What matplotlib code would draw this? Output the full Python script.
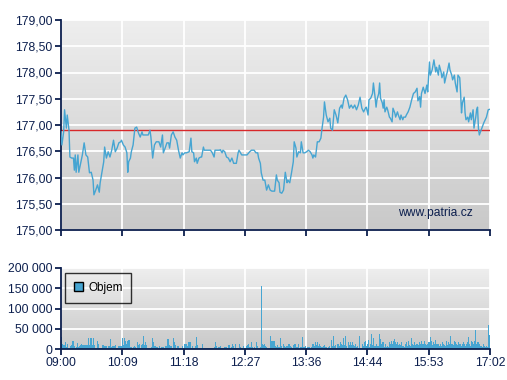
import numpy as np
import matplotlib
matplotlib.use("Agg")
import matplotlib.pyplot as plt
from matplotlib.colors import LinearSegmentedColormap

# minutes after 09:00 and price
minutes = [0, 1, 3, 4, 6, 7, 9, 10, 12, 14, 15, 16, 17, 19, 20, 22, 24, 26, 28, 30,
           32, 34, 36, 37, 39, 41, 43, 44, 46, 48, 49, 51, 53, 55, 57, 59, 61, 63, 65, 67,
           68, 70, 72, 74, 75, 76, 78, 79, 81, 83, 85, 87, 89, 91, 92, 94, 98, 100, 101, 103,
           105, 107, 110, 112, 114, 115,
           117, 119, 121, 122, 124, 126, 128, 130, 132, 134, 136, 137, 139, 141, 144, 146, 147, 149, 150, 152,
           153, 155, 157, 158, 160, 161, 163, 166, 168, 170, 172, 173, 176, 178, 179, 181, 182, 184, 186, 188,
           190, 192, 194, 195, 197, 199, 200, 203, 207, 209, 212, 214, 217, 219, 221, 222, 224, 225, 227, 229,
           231, 233,
           235, 237, 239, 240, 242, 243, 245, 246, 248, 250, 252, 254, 255, 257, 259, 261, 262, 264, 265, 267,
           269, 270, 272, 274, 276, 278, 280, 282, 283, 284, 286, 288, 290, 292, 293, 295, 296, 297, 298, 300,
           302, 303, 305, 307, 309, 311, 313, 315, 316, 318, 320, 322, 324, 326, 328, 330, 332, 334, 336, 338,
           340, 342, 343, 345,
           346, 348, 350, 351, 353, 354, 355, 357, 358, 359, 361, 362, 363, 364, 366, 367, 369, 370, 372, 373,
           375, 376, 378, 379, 381, 382, 384, 385, 387, 388, 390, 392, 394, 396, 398, 400, 401, 403, 404, 405,
           407, 409, 411, 412, 414, 415, 417, 418, 419, 421, 422, 424, 425, 427, 428, 430, 431, 433, 434, 436,
           437, 439, 440, 442, 443, 445, 446, 448, 449, 450, 451, 453, 454, 455, 457, 458, 460, 461, 463, 464,
           466, 467, 468, 469, 470, 472, 475, 478, 480, 482]
price = [176.87, 176.62, 176.87, 177.29, 176.94, 177.19, 176.90, 176.39, 176.37, 176.37, 176.14, 176.43, 176.10, 176.43, 176.10, 176.27, 176.43, 176.66, 176.43, 176.39,
         176.09, 176.10, 175.95, 175.67, 175.76, 175.86, 175.72, 175.90, 176.10, 176.30, 176.58, 176.37, 176.49, 176.39, 176.52, 176.71, 176.49, 176.56, 176.66, 176.68,
         176.71, 176.62, 176.58, 176.47, 176.10, 176.30, 176.37, 176.49, 176.62, 176.94, 176.96, 176.85, 176.77, 176.87, 176.81, 176.81, 176.81, 176.90, 176.77, 176.37,
         176.62, 176.68, 176.68, 176.58, 176.81, 176.47,
         176.56, 176.66, 176.66, 176.56, 176.81, 176.87, 176.77, 176.71, 176.52, 176.37, 176.47, 176.43, 176.47, 176.47, 176.49, 176.75, 176.49, 176.47, 176.30, 176.37,
         176.27, 176.37, 176.39, 176.39, 176.58, 176.52, 176.52, 176.52, 176.52, 176.47, 176.39, 176.52, 176.52, 176.52, 176.53, 176.47, 176.52, 176.49, 176.39, 176.37,
         176.30, 176.37, 176.27, 176.27, 176.27, 176.47, 176.52, 176.43, 176.43, 176.43, 176.49, 176.52, 176.52, 176.47, 176.47, 176.37, 176.27, 176.09, 175.95, 175.95,
         175.76, 175.86,
         175.76, 175.74, 175.74, 175.74, 176.05, 175.95, 175.90, 175.72, 175.70, 175.76, 176.10, 175.90, 175.95, 175.90, 176.09, 176.30, 176.68, 176.56, 176.39, 176.49,
         176.47, 176.68, 176.47, 176.47, 176.49, 176.52, 176.49, 176.43, 176.37, 176.43, 176.39, 176.68, 176.68, 176.75, 176.90, 177.15, 177.44, 177.32, 177.19, 177.06,
         177.13, 176.94, 176.90, 177.29, 177.19, 177.04, 177.32, 177.38, 177.32, 177.51, 177.57, 177.48, 177.32, 177.38, 177.32, 177.38, 177.29, 177.38, 177.53, 177.32,
         177.25, 177.32, 177.34, 177.19,
         177.48, 177.51, 177.60, 177.80, 177.51, 177.34, 177.48, 177.60, 177.80, 177.51, 177.42, 177.32, 177.48, 177.25, 177.34, 177.29, 177.15, 177.13, 177.06, 177.32,
         177.23, 177.15, 177.25, 177.19, 177.10, 177.19, 177.10, 177.15, 177.15, 177.19, 177.25, 177.34, 177.48, 177.60, 177.63, 177.70, 177.46, 177.54, 177.34, 177.60,
         177.72, 177.60, 177.76, 177.63, 178.20, 177.95, 178.05, 178.14, 178.24, 178.01, 178.10, 177.95, 178.14, 178.01, 177.90, 178.01, 177.80, 177.95, 178.01, 178.18,
         178.05, 177.95, 177.86, 177.95, 177.80, 177.63, 177.95, 177.90, 177.60, 177.23, 177.42, 177.53, 177.23, 177.10, 177.15, 177.06, 177.23, 177.10, 177.29, 176.94,
         177.15, 177.29, 177.34, 176.94, 176.81, 176.90, 177.04, 177.15, 177.29, 177.30]
prev_close = 176.90

# traded volume in thousands, one bar per chart column from 09:00 to 17:02
volume_k = [30, 12, 10, 10, 18, 5, 12, 2, 2, 8, 10, 20, 20, 8, 2, 4, 15, 5, 8, 10, 12, 10, 10, 10, 10, 10, 10, 27, 10, 27,
            27, 10, 27, 10, 2, 2, 20, 12, 2, 2, 2, 10, 10, 8, 8, 8, 2, 7, 7, 25, 5, 7, 7, 7, 10, 2, 2, 8, 8, 8,
            8, 28, 10, 28, 20, 12, 20, 22, 22, 5, 5, 2, 5, 8, 5, 2, 18, 10, 12, 2, 10, 12, 33, 10, 17, 10, 2, 2, 2, 2,
            5, 28, 17, 8, 7, 5, 5, 3, 7, 3, 5, 5, 5, 2, 8, 7, 25, 10, 8, 8, 2, 28, 17, 10, 2, 8, 8, 2, 2, 2,
            8, 2, 13, 12, 12, 8, 17, 17, 18, 2, 7, 2, 2, 8, 30, 10, 2, 2, 2, 2, 12, 2, 2, 2, 2, 2,
            2, 2, 2, 2, 2, 2, 5, 17, 8, 3, 5, 5, 8, 2, 2, 2, 5, 5, 5, 2, 10, 10, 2, 5, 13, 8, 2, 12, 2, 2,
            2, 12, 5, 2, 2, 8, 2, 2, 8, 10, 12, 5, 5, 18, 5, 2, 5, 2, 18, 8, 2, 2, 5, 156, 12, 10, 13, 8, 5, 2,
            2, 2, 32, 20, 20, 20, 20, 8, 5, 10, 5, 5, 27, 8, 2, 13, 8, 5, 8, 8, 12, 12, 8, 5, 2, 10, 12, 12, 5, 5,
            12, 2, 5, 5, 30, 5, 5, 8, 2, 5, 5, 5, 2, 5, 13, 12, 8, 18, 10, 17, 8, 13, 8, 5, 5, 8, 10, 5, 5, 2,
            5, 8, 2, 22, 8, 32, 8, 10, 2, 12, 13, 8, 17, 13, 10, 27, 10, 33, 8, 2, 17, 10, 17, 10, 17, 10, 8,
            12, 5, 8, 2, 32, 2, 2, 12, 8, 17, 20, 8, 12, 22, 5, 12, 38, 10, 28, 8, 8, 13, 8, 8, 38, 25, 12, 17, 5, 12,
            5, 8, 5, 17, 12, 20, 12, 20, 25, 17, 13, 17, 10, 12, 10, 17, 8, 8, 5, 12, 17, 8, 20, 10, 8, 27, 12, 10, 17, 10,
            13, 12, 10, 17, 13, 20, 12, 13, 20, 12, 10, 13, 17, 18, 30, 20, 10, 17, 13, 23, 12, 13, 13, 8, 13, 8, 18, 13, 10, 8,
            20, 10, 17, 13, 33, 12, 13, 10, 20, 17, 12, 10, 17, 13, 12, 8, 12, 17, 13, 8, 12, 17, 30, 13, 8, 20, 17, 12, 20, 47,
            12, 17, 17, 12, 8, 8, 5, 12, 8, 5, 8, 5, 60, 35]

tick_labels = ["09:00", "10:09", "11:18", "12:27", "13:36", "14:44", "15:53", "17:02"]
price_ticks = [175.0, 175.5, 176.0, 176.5, 177.0, 177.5, 178.0, 178.5, 179.0]
vol_ticks = [0, 50000, 100000, 150000, 200000]

navy = "#0c1f4e"
blue = "#46a5d2"
span = 482

plt.rcParams['font.family'] = ['Liberation Sans', 'DejaVu Sans']

fig = plt.figure(figsize=(5.07, 3.80), dpi=100)
ax = fig.add_axes([61/507, 1-230/380, 429/507, 210/380])
axv = fig.add_axes([61/507, 1-349/380, 429/507, 81/380])

bg = LinearSegmentedColormap.from_list("bg", ["#c9c9c9", "#eeeeee"])
xt = np.linspace(0, span, len(tick_labels))

def style(a, ylo, yhi):
    a.imshow(np.linspace(0, 1, 100).reshape(-1, 1), extent=[0, span, ylo, yhi],
             aspect='auto', cmap=bg, origin='lower', zorder=0)
    a.set_xlim(0, span)
    a.set_ylim(ylo, yhi)
    a.set_axisbelow(True)
    a.grid(True, color='white', lw=1.3)
    for s in ('top', 'right'):
        a.spines[s].set_visible(False)
    for s in ('left', 'bottom'):
        a.spines[s].set_color(navy)
        a.spines[s].set_linewidth(1.3)
    a.set_xticks(xt)
    a.tick_params(colors=navy, labelsize=8.7, length=4, width=1.3, pad=2)

style(ax, 175, 179)
ax.plot(minutes, price, color=blue, lw=1.0, zorder=3)
ax.axhline(prev_close, color="#d8282a", lw=1.0, zorder=2)
ax.set_yticks(price_ticks)
ax.set_yticklabels([f"{v:.2f}".replace(".", ",") for v in price_ticks])
ax.set_xticklabels([])
ax.text(0.96, 0.08, "www.patria.cz", transform=ax.transAxes, ha='right', va='center',
        color=navy, fontsize=8.7)

style(axv, 0, 200000)
vx = np.linspace(0, span, len(volume_k) + 1)[:-1]
axv.bar(vx, np.array(volume_k) * 1000, width=span / len(volume_k), align='edge',
        color=blue, lw=0, antialiased=False, zorder=2)
axv.set_yticks(vol_ticks)
axv.set_yticklabels([f"{v:,}".replace(",", " ") for v in vol_ticks])
axv.set_xticklabels(tick_labels)

leg_h = axv.bar([0], [0], color=blue, edgecolor='black', lw=1)
leg = axv.legend([leg_h], ["Objem"], loc='upper left', bbox_to_anchor=(4/429, 1-5/81),
                 borderaxespad=0, frameon=True, fancybox=False, handlelength=0.8,
                 handleheight=0.8, fontsize=8.5, borderpad=0.75, handletextpad=0.4)
leg.get_frame().set_edgecolor('black')
leg.get_frame().set_facecolor('none')
leg.get_frame().set_linewidth(1.0)

fig.savefig("out.png", dpi=100)
